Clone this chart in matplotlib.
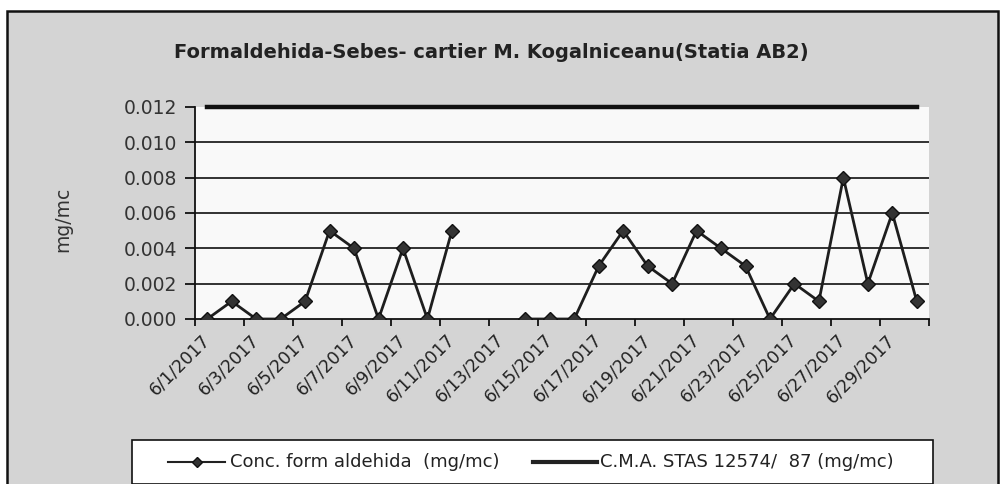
import numpy as np
import matplotlib
matplotlib.use("Agg")
import matplotlib.pyplot as plt
from matplotlib.patches import Rectangle
from matplotlib.lines import Line2D

# date labels (June 2017) and measured values
days = ["6/%d/2017" % d for d in range(1, 31)]
conc = [0.000, 0.001, 0.000, 0.000, 0.001, 0.005, 0.004, 0.000, 0.004, 0.000,
        0.005, np.nan, np.nan, 0.000, 0.000, 0.000, 0.003, 0.005, 0.003, 0.002,
        0.005, 0.004, 0.003, 0.000, 0.002, 0.001, 0.008, 0.002, 0.006, 0.001]
cma = [0.012] * 30
yticks = [0.000, 0.002, 0.004, 0.006, 0.008, 0.010, 0.012]

title = "Formaldehida-Sebes- cartier M. Kogalniceanu(Statia AB2)"
ylabel = "mg/mc"
lab1 = "Conc. form aldehida  (mg/mc)"
lab2 = "C.M.A. STAS 12574/  87 (mg/mc)"

W, H = 1001, 484
fig = plt.figure(figsize=(W / 100, H / 100), dpi=100)
fig.patch.set_facecolor("white")

# chart area (gray, scanned look)
fig.patches.append(Rectangle((7 / W, -0.05), 991 / W, 1 - 11 / H + 0.05,
                             transform=fig.transFigure, facecolor="#d4d4d4",
                             edgecolor="#111111", lw=1.8, zorder=-10))

ax = fig.add_axes([195 / W, 1 - 319 / H, 734 / W, 212 / H])
ax.set_facecolor("#f9f9f9")
x = np.arange(len(days))

ax.plot(x, cma, color="#111111", lw=3.2, clip_on=False, zorder=4)
ax.plot(x, conc, color="#1e1e1e", lw=2.0, marker="D", ms=7,
        mfc="#333333", mec="#111111", mew=1.0, zorder=5)

ax.set_xlim(-0.5, 29.5)
ax.set_ylim(0, 0.012)
ax.set_yticks(yticks)
ax.set_yticklabels(["%.3f" % v for v in yticks])
for v in yticks[1:-1]:
    ax.axhline(v, color="#111111", lw=1.2, zorder=1)

ax.set_xticks(np.arange(-0.5, 30, 2))
ax.set_xticklabels([])
ax.set_xticks(x[::2], minor=True)
ax.set_xticklabels(days[::2], minor=True, rotation=45, ha="right",
                   rotation_mode="anchor", va="center", fontsize=12.5)
ax.tick_params(axis="x", which="major", direction="out", length=5, width=1.2)
ax.tick_params(axis="x", which="minor", length=0, pad=13,
               labelcolor="#222222")
ax.tick_params(axis="y", direction="out", length=7, width=1.2, labelsize=13.5,
               pad=6, labelcolor="#333333")

for s in ["top", "right"]:
    ax.spines[s].set_visible(False)
for s in ["left", "bottom"]:
    ax.spines[s].set_color("#111111")
    ax.spines[s].set_linewidth(1.3)

fig.text(491 / W, 1 - 53 / H, title, ha="center", va="center",
         fontsize=14, fontweight="bold", color="#222222")
fig.text(63 / W, 1 - 219 / H, ylabel, rotation=90, ha="center", va="center",
         fontsize=13.5, color="#333333")

# legend box
fig.patches.append(Rectangle((132 / W, 1 - 484 / H), 801 / W, 44 / H,
                             transform=fig.transFigure, facecolor="white",
                             edgecolor="#111111", lw=1.2, zorder=1))
ly = 1 - 462 / H
fig.add_artist(Line2D([168 / W, 225 / W], [ly, ly], color="#222222", lw=1.5,
                      transform=fig.transFigure, zorder=2))
fig.add_artist(Line2D([197 / W], [ly], marker="D", ms=5, mfc="#333333",
                      mec="#111111", transform=fig.transFigure, zorder=3))
fig.text(230 / W, ly, lab1, ha="left", va="center", fontsize=13,
         color="#222222")
fig.add_artist(Line2D([533 / W, 597 / W], [ly, ly], color="#222222", lw=3,
                      transform=fig.transFigure, zorder=2))
fig.text(600 / W, ly, lab2, ha="left", va="center", fontsize=13,
         color="#222222")

fig.savefig("out.png", dpi=100)
